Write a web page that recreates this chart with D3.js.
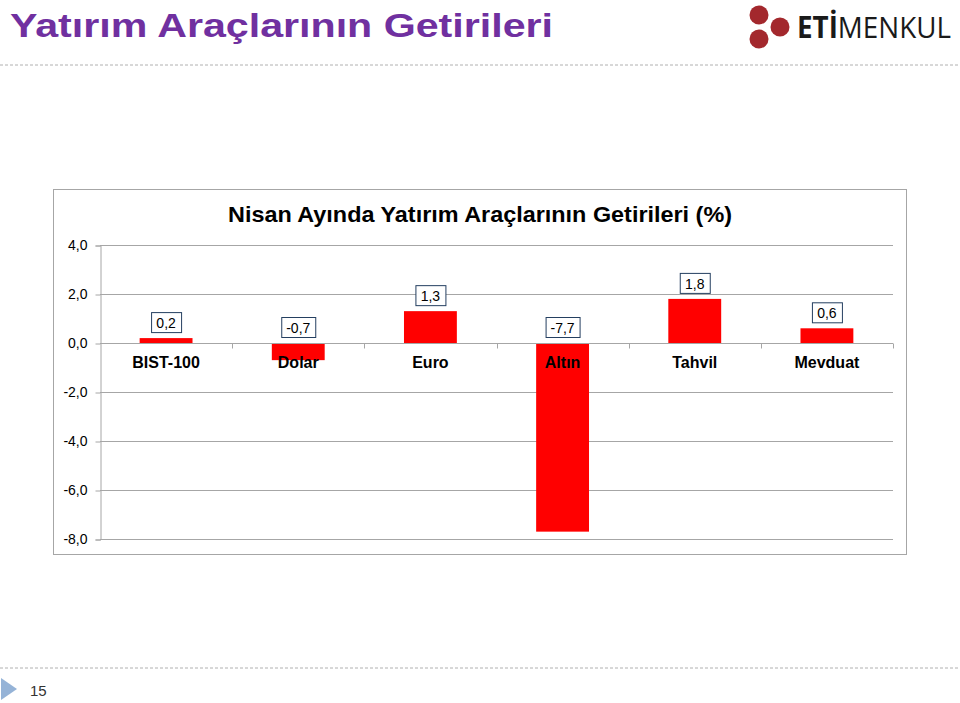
<!DOCTYPE html>
<html>
<head>
<meta charset="utf-8">
<script src="https://cdn.jsdelivr.net/npm/d3@7"></script>
<style>
  body { margin: 0; background: #fff; }
  svg { font-family: "Liberation Sans", Arial, sans-serif; }
</style>
</head>
<body>
<svg id="slide" width="960" height="703"></svg>
<script>
var categories = ["BIST-100", "Dolar", "Euro", "Altın", "Tahvil", "Mevduat"];
var values = [0.2, -0.7, 1.3, -7.7, 1.8, 0.6];
var yTicks = [4, 2, 0, -2, -4, -6, -8];

var svg = d3.select("#slide");

function fmt(d) { return d3.format(".1f")(d).replace(".", ",").replace("−", "-"); }

// slide header
svg.append("text")
    .attr("x", 10).attr("y", 37)
    .attr("fill", "#7030a0")
    .attr("font-size", 34).attr("font-weight", "bold")
    .attr("textLength", 543).attr("lengthAdjust", "spacingAndGlyphs")
    .text("Yatırım Araçlarının Getirileri");

svg.append("line")
    .attr("x1", 0).attr("x2", 960).attr("y1", 65).attr("y2", 65)
    .attr("stroke", "#b0b0b0").attr("stroke-dasharray", "3,2");

svg.append("line")
    .attr("x1", 0).attr("x2", 960).attr("y1", 668).attr("y2", 668)
    .attr("stroke", "#b0b0b0").attr("stroke-dasharray", "3,2");

// logo
var logo = svg.append("g");
[[759, 15], [780, 27], [759, 39]].forEach(function(c) {
    logo.append("circle").attr("cx", c[0]).attr("cy", c[1]).attr("r", 9.5).attr("fill", "#a3282d");
});
var lt = logo.append("text")
    .attr("x", 797).attr("y", 38)
    .attr("font-family", "'Open Sans', 'DejaVu Sans', sans-serif")
    .attr("font-size", 30).attr("fill", "#1a1a1a")
    .attr("textLength", 154).attr("lengthAdjust", "spacingAndGlyphs");
lt.append("tspan").attr("font-weight", "bold").text("ETİ");
lt.append("tspan").text("MENKUL");

// page number
svg.append("path").attr("d", "M1,678 L17,689 L1,700 Z").attr("fill", "#95b3d7");
svg.append("text").attr("x", 30).attr("y", 696)
    .attr("font-size", 15).attr("fill", "#333").text("15");

// chart frame
svg.append("rect")
    .attr("x", 53.5).attr("y", 189.5).attr("width", 853).attr("height", 365)
    .attr("fill", "#fff").attr("stroke", "#a6a6a6");

svg.append("text")
    .attr("x", 480).attr("y", 222)
    .attr("text-anchor", "middle")
    .attr("font-size", 22).attr("font-weight", "bold")
    .attr("textLength", 504).attr("lengthAdjust", "spacingAndGlyphs")
    .text("Nisan Ayında Yatırım Araçlarının Getirileri (%)");

var plotLeft = 100, plotRight = 893, plotTop = 245, plotBottom = 539;

var x = d3.scaleBand().domain(categories).range([plotLeft, plotRight]);
var y = d3.scaleLinear().domain([-8, 4]).range([plotBottom, plotTop]);

var g = svg.append("g");

// gridlines
g.selectAll(".grid").data(yTicks).enter().append("line")
    .attr("x1", plotLeft).attr("x2", plotRight)
    .attr("y1", function(d) { return Math.round(y(d)) + 0.5; })
    .attr("y2", function(d) { return Math.round(y(d)) + 0.5; })
    .attr("stroke", "#a6a6a6");

// y axis
var yAxis = g.append("g")
    .attr("transform", "translate(" + (plotLeft + 0.5) + ",0.5)")
    .call(d3.axisLeft(y).tickValues(yTicks).tickSize(5).tickPadding(8).tickFormat(fmt));
yAxis.select(".domain").attr("stroke", "#a6a6a6");
yAxis.selectAll(".tick line").attr("stroke", "#a6a6a6");
yAxis.selectAll("text").attr("font-size", 14).attr("fill", "#000")
    .attr("font-family", "'Liberation Sans', Arial, sans-serif");

// bars
var bw = x.bandwidth() / 2.5;
g.selectAll(".bar").data(values).enter().append("rect")
    .attr("x", function(d, i) { return x(categories[i]) + (x.bandwidth() - bw) / 2; })
    .attr("y", function(d) { return y(Math.max(0, d)); })
    .attr("width", bw)
    .attr("height", function(d) { return Math.abs(y(d) - y(0)); })
    .attr("fill", "#ff0000");

// x axis at zero
var xAxis = g.append("g")
    .attr("transform", "translate(0," + (Math.round(y(0)) + 0.5) + ")");
xAxis.append("line").attr("x1", plotLeft).attr("x2", plotRight).attr("stroke", "#a6a6a6");
xAxis.selectAll(".xt").data(categories).enter().append("line")
    .attr("x1", function(d) { return Math.round(x(d) + x.bandwidth()) + 0.5; })
    .attr("x2", function(d) { return Math.round(x(d) + x.bandwidth()) + 0.5; })
    .attr("y1", 0).attr("y2", 5)
    .attr("stroke", "#a6a6a6");
xAxis.selectAll(".cat").data(categories).enter().append("text")
    .attr("x", function(d) { return x(d) + x.bandwidth() / 2; })
    .attr("y", 24)
    .attr("text-anchor", "middle")
    .attr("font-size", 16).attr("font-weight", "bold")
    .text(function(d) { return d; });

// data labels
var lab = g.selectAll(".lab").data(values).enter().append("g")
    .attr("transform", function(d, i) {
        var cy = y(Math.max(0, d)) - 15;
        return "translate(" + (x(categories[i]) + x.bandwidth() / 2) + "," + cy + ")";
    });
lab.append("text")
    .attr("text-anchor", "middle").attr("dy", "0.35em")
    .attr("font-size", 14)
    .text(fmt)
    .each(function() {
        var b = this.getBBox();
        d3.select(this.parentNode).insert("rect", "text")
            .attr("x", Math.round(b.x - 5) + 0.5).attr("y", -10.5)
            .attr("width", Math.round(b.width + 10)).attr("height", 20)
            .attr("fill", "#fff").attr("stroke", "#243f60");
    });
</script>
</body>
</html>
